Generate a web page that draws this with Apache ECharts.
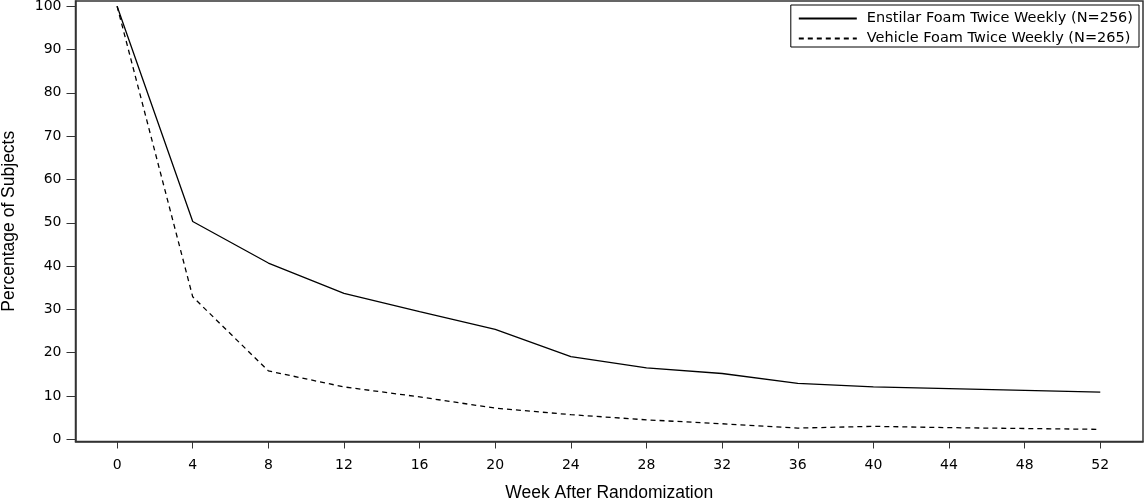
<!DOCTYPE html>
<html>
<head>
<meta charset="utf-8">
<script src="https://cdn.jsdelivr.net/npm/echarts@6/dist/echarts.min.js"></script>
<style>
html,body{margin:0;padding:0;background:#fff;}
#c{width:1145px;height:499px;}
</style>
</head>
<body>
<div id="c"></div>
<script>
const weeks = [0, 4, 8, 12, 16, 20, 24, 28, 32, 36, 40, 44, 48, 52];
const enstilar = [100, 50.3, 40.7, 33.7, 29.5, 25.4, 19.1, 16.5, 15.2, 12.9, 12.1, 11.7, 11.3, 10.9];
const vehicle = [100, 32.9, 15.8, 12.1, 9.8, 7.2, 5.7, 4.5, 3.6, 2.6, 3.0, 2.7, 2.5, 2.3];
const xTicks = [0, 4, 8, 12, 16, 20, 24, 28, 32, 36, 40, 44, 48, 52];
const yTicks = [0, 10, 20, 30, 40, 50, 60, 70, 80, 90, 100];
const seriesNames = ['Enstilar Foam Twice Weekly (N=256)', 'Vehicle Foam Twice Weekly (N=265)'];
const xTitle = 'Week After Randomization';
const yTitle = 'Percentage of Subjects';

const font = 'DejaVu Sans';
const titleFont = 'Liberation Sans';
const chart = echarts.init(document.getElementById('c'), null, {renderer: 'canvas'});
chart.setOption({
  animation: false,
  backgroundColor: '#fff',
  grid: {left: 75.5, right: 2, top: 1, bottom: 57.5, show: true, borderColor: '#333', borderWidth: 1.5,
         containLabel: false, outerBoundsMode: 'none'},
  legend: {
    orient: 'vertical', right: 6, top: 5,
    borderColor: '#000', borderWidth: 1, padding: [6, 6, 1, 7],
    itemWidth: 58, itemHeight: 15, itemGap: 5,
    itemStyle: {opacity: 0},
    textStyle: {fontFamily: font, fontSize: 14.5, lineHeight: 15, color: '#000', padding: [0, 0, 0, 5]},
    data: seriesNames
  },
  xAxis: {
    type: 'value', min: -2.2, max: 54.26,
    name: xTitle, nameLocation: 'middle', nameGap: 43,
    nameTextStyle: {fontFamily: titleFont, fontSize: 17.5, color: '#000'},
    axisLine: {show: true, onZero: false, lineStyle: {color: '#333', width: 1.5}},
    axisTick: {show: true, length: 7, customValues: xTicks, lineStyle: {color: '#333'}},
    axisLabel: {customValues: xTicks, fontFamily: font, fontSize: 14, color: '#000', margin: 17},
    splitLine: {show: false}
  },
  yAxis: {
    type: 'value', min: -0.5, max: 101.2,
    name: yTitle, nameLocation: 'middle', nameGap: 57, nameRotate: 90,
    nameTextStyle: {fontFamily: titleFont, fontSize: 17.5, color: '#000'},
    axisLine: {show: true, onZero: false, lineStyle: {color: '#333', width: 1.5}},
    axisTick: {show: true, length: 9, customValues: yTicks, lineStyle: {color: '#333'}},
    axisLabel: {customValues: yTicks, fontFamily: font, fontSize: 14, color: '#000', margin: 14},
    splitLine: {show: false}
  },
  series: [
    {name: seriesNames[0], type: 'line', data: weeks.map((w, i) => [w, enstilar[i]]),
     symbol: 'none', lineStyle: {color: '#000', width: 1.3, type: 'solid'}, itemStyle: {color: '#000'}},
    {name: seriesNames[1], type: 'line', data: weeks.map((w, i) => [w, vehicle[i]]),
     symbol: 'none', lineStyle: {color: '#000', width: 1.3, type: [5, 4]}, itemStyle: {color: '#000'}}
  ]
});
</script>
</body>
</html>
